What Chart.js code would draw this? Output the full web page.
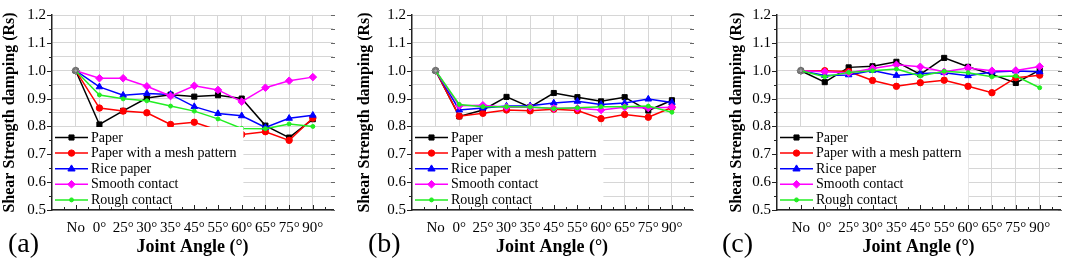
<!DOCTYPE html>
<html>
<head>
<meta charset="utf-8">
<script src="https://cdn.jsdelivr.net/npm/chart.js@4.4.1/dist/chart.umd.min.js"></script>
<style>
  html, body { margin: 0; padding: 0; background: #ffffff; }
  #wrap { position: relative; width: 1065px; height: 265px; overflow: hidden; background: #fff; }
  canvas { position: absolute; top: 0; }
</style>
</head>
<body>
<div id="wrap">
  <canvas id="cA" width="355" height="265" style="left:0px"></canvas>
  <canvas id="cB" width="355" height="265" style="left:355px"></canvas>
  <canvas id="cC" width="355" height="265" style="left:710px"></canvas>
</div>
<script>
// ---------- data ----------
const categories = ['No', '0°', '25°', '30°', '35°', '45°', '55°', '60°', '65°', '75°', '90°'];
const seriesNames = ['Paper', 'Paper with a mesh pattern', 'Rice paper', 'Smooth contact', 'Rough contact'];
const yTickLabels = ['0.5', '0.6', '0.7', '0.8', '0.9', '1.0', '1.1', '1.2'];
const xTitle = 'Joint Angle (°)';
const yTitle = 'Shear Strength damping (Rs)';
const panelLabels = ['(a)', '(b)', '(c)'];

// panel (a)
const paperA  = [1.000, 0.807, 0.856, 0.902, 0.914, 0.907, 0.912, 0.900, 0.803, 0.760, 0.826];
const meshA   = [1.000, 0.866, 0.855, 0.849, 0.807, 0.815, 0.786, 0.771, 0.781, 0.750, 0.830];
const riceA   = [1.000, 0.942, 0.912, 0.918, 0.915, 0.871, 0.846, 0.838, 0.796, 0.829, 0.840];
const smoothA = [1.000, 0.973, 0.973, 0.944, 0.909, 0.946, 0.931, 0.889, 0.939, 0.964, 0.977];
const roughA  = [1.000, 0.913, 0.899, 0.892, 0.873, 0.855, 0.827, 0.793, 0.792, 0.809, 0.800];

// panel (b)
const paperB  = [1.000, 0.836, 0.859, 0.906, 0.869, 0.920, 0.905, 0.890, 0.905, 0.857, 0.894];
const meshB   = [1.000, 0.837, 0.847, 0.859, 0.856, 0.862, 0.857, 0.828, 0.843, 0.833, 0.868];
const riceB   = [1.000, 0.859, 0.866, 0.873, 0.874, 0.884, 0.890, 0.879, 0.884, 0.898, 0.886];
const smoothB = [1.000, 0.874, 0.876, 0.869, 0.869, 0.865, 0.865, 0.859, 0.869, 0.866, 0.869];
const roughB  = [1.000, 0.879, 0.871, 0.871, 0.870, 0.864, 0.867, 0.871, 0.871, 0.873, 0.851];

// panel (c)
const paperC  = [1.000, 0.959, 1.012, 1.016, 1.032, 0.987, 1.046, 1.014, 0.987, 0.956, 1.002];
const meshC   = [1.000, 1.000, 0.997, 0.965, 0.944, 0.957, 0.966, 0.944, 0.921, 0.975, 0.984];
const riceC   = [1.000, 0.983, 0.985, 1.001, 0.983, 0.990, 0.993, 0.982, 0.995, 0.999, 0.996];
const smoothC = [1.000, 0.996, 0.992, 1.008, 1.021, 1.014, 0.996, 1.010, 1.000, 1.001, 1.015];
const roughC  = [1.000, 0.978, 0.994, 1.000, 1.006, 0.981, 0.998, 0.993, 0.978, 0.981, 0.939];

// ---------- styles ----------
const seriesStyle = [
  { color: '#000000', shape: 'rect',     radius: 3.6 },
  { color: '#ff0000', shape: 'circle',   radius: 3.2 },
  { color: '#0000ff', shape: 'triangle', radius: 3.8 },
  { color: '#ff00ff', shape: 'rectRot',  radius: 3.8 },
  { color: '#22ee22', shape: 'circle',   radius: 2.0 }
];
const FONT = "'Liberation Serif', 'Times New Roman', serif";

function drawMarker(ctx, shape, r, x, y, color) {
  ctx.save();
  ctx.fillStyle = color; ctx.strokeStyle = color; ctx.lineWidth = 1;
  ctx.beginPath();
  if (shape === 'rect') {
    const s = r * Math.SQRT1_2;
    ctx.rect(x - s, y - s, 2 * s, 2 * s);
  } else if (shape === 'circle') {
    ctx.arc(x, y, r, 0, Math.PI * 2);
  } else if (shape === 'triangle') {
    ctx.moveTo(x, y - r);
    ctx.lineTo(x + r * 0.95, y + r * 0.6);
    ctx.lineTo(x - r * 0.95, y + r * 0.6);
    ctx.closePath();
  } else if (shape === 'rectRot') {
    ctx.moveTo(x, y - r); ctx.lineTo(x + r, y); ctx.lineTo(x, y + r); ctx.lineTo(x - r, y); ctx.closePath();
  }
  ctx.fill(); ctx.stroke();
  ctx.restore();
}

const decorPlugin = {
  id: 'decor',
  afterDatasetsDraw(chart, args, o) {
    const ctx = chart.ctx;
    const ca = chart.chartArea;
    const xs = chart.scales.x, ys = chart.scales.y;
    ctx.save();
    // legend box (opaque, covers plot)
    ctx.font = '14px ' + FONT;
    let maxW = 0;
    chart.data.datasets.forEach(ds => { maxW = Math.max(maxW, ctx.measureText(ds.label).width); });
    ctx.fillStyle = '#ffffff';
    ctx.fillRect(ca.left + 1, o.legendTop, 39 + maxW + 6, ca.bottom - o.legendTop - 1);
    chart.data.datasets.forEach((ds, i) => {
      const st = seriesStyle[i];
      const yy = o.legendFirst + i * o.legendStep;
      ctx.strokeStyle = st.color; ctx.lineWidth = 1.5;
      ctx.beginPath(); ctx.moveTo(ca.left + 3, yy); ctx.lineTo(ca.left + 36, yy); ctx.stroke();
      drawMarker(ctx, st.shape, st.radius, ca.left + 19.5, yy, st.color);
      ctx.fillStyle = '#000'; ctx.textAlign = 'left'; ctx.textBaseline = 'middle';
      ctx.fillText(ds.label, ca.left + 39, yy + 0.5);
    });
    // axis ticks
    ctx.strokeStyle = '#222'; ctx.lineWidth = 1;
    for (let k = 0; k <= 14; k++) {
      const v = 0.5 + k * 0.05;
      const py = Math.round(ys.getPixelForValue(v)) + 0.5;
      const len = (k % 2 === 0) ? 5 : 3;
      ctx.beginPath(); ctx.moveTo(ca.left - len, py); ctx.lineTo(ca.left, py); ctx.stroke();
      ctx.strokeStyle = '#666';
      ctx.beginPath(); ctx.moveTo(ca.right - 2, py); ctx.lineTo(ca.right + 2, py); ctx.stroke();
      ctx.strokeStyle = '#222';
    }
    for (let k = -1; k <= 21; k++) {
      const v = k * 0.5;
      const px = Math.round(xs.getPixelForValue(v)) + 0.5;
      if (px < ca.left || px > ca.right) continue;
      const len = (k % 2 === 0) ? 5 : 3;
      ctx.beginPath(); ctx.moveTo(px, ca.bottom - len); ctx.lineTo(px, ca.bottom); ctx.stroke();
    }
    ctx.restore();
  },
  afterDraw(chart, args, o) {
    const ctx = chart.ctx;
    const ca = chart.chartArea;
    ctx.save();
    ctx.fillStyle = '#000';
    // x title
    ctx.font = 'bold 18px ' + FONT;
    ctx.textAlign = 'center'; ctx.textBaseline = 'alphabetic';
    ctx.fillText(xTitle, (ca.left + ca.right) / 2, 252);
    // y title
    ctx.save();
    ctx.translate(o.yTitleX, (ca.top + ca.bottom) / 2);
    ctx.rotate(-Math.PI / 2);
    ctx.font = 'bold 16px ' + FONT;
    ctx.textAlign = 'center'; ctx.textBaseline = 'middle';
    ctx.fillText(yTitle, 0, 0);
    ctx.restore();
    // panel label
    ctx.font = '28px ' + FONT;
    ctx.textAlign = 'left'; ctx.textBaseline = 'alphabetic';
    ctx.fillText(o.label, o.labelX, 252);
    ctx.restore();
  }
};

function makeDatasets(arrs) {
  return arrs.map((arr, i) => {
    const st = seriesStyle[i];
    const bg = arr.map((v, j) => j === 0 ? '#a0a0a0' : st.color);
    const bd = arr.map((v, j) => j === 0 ? '#6a6a6a' : st.color);
    return {
      label: seriesNames[i],
      data: arr.map((v, j) => ({ x: j, y: v })),
      borderColor: st.color,
      backgroundColor: st.color,
      borderWidth: 1.5,
      pointStyle: st.shape,
      pointRadius: st.radius,
      pointBackgroundColor: bg,
      pointBorderColor: bd,
      pointBorderWidth: 1,
      tension: 0,
      order: arrs.length - i
    };
  });
}

function makeChart(id, arrs, cfg) {
  const W = 355;
  new Chart(document.getElementById(id), {
    type: 'line',
    data: { datasets: makeDatasets(arrs) },
    plugins: [decorPlugin],
    options: {
      responsive: false,
      animation: false,
      events: [],
      layout: { padding: { left: 0, right: W - cfg.right, top: 8, bottom: 0 } },
      plugins: {
        legend: { display: false },
        tooltip: { enabled: false },
        decor: {
          label: cfg.label, labelX: cfg.labelX, yTitleX: cfg.yTitleX,
          legendTop: 127, legendFirst: 137.5, legendStep: 15.6
        }
      },
      scales: {
        x: {
          type: 'linear', min: -1, max: 10.85,
          afterBuildTicks: s => { s.ticks = categories.map((c, i) => ({ value: i })); },
          afterFit: s => { s.height = 55; },
          ticks: {
            callback: v => categories[v] !== undefined ? categories[v] : '',
            autoSkip: false, maxRotation: 0, minRotation: 0,
            font: { family: FONT, size: 15 }, color: '#000', padding: 9
          },
          grid: { color: '#d6d6d6', lineWidth: 1, drawTicks: false },
          border: { color: '#222', width: 1.5 }
        },
        y: {
          min: 0.5, max: 1.2,
          afterBuildTicks: s => {
            const t = [];
            for (let k = 0; k <= 14; k++) t.push({ value: +(0.5 + k * 0.05).toFixed(2) });
            s.ticks = t;
          },
          afterFit: s => { s.width = cfg.left; },
          ticks: {
            callback: (v, idx) => (idx % 2 === 0) ? yTickLabels[idx / 2] : '',
            autoSkip: false,
            font: { family: FONT, size: 15 }, color: '#000', padding: 6
          },
          grid: { color: '#d6d6d6', lineWidth: 1, drawTicks: false },
          border: { color: '#222', width: 1.5 }
        }
      }
    }
  });
}

makeChart('cA', [paperA, meshA, riceA, smoothA, roughA], { left: 52, right: 333, label: panelLabels[0], labelX: 8,  yTitleX: 10 });
makeChart('cB', [paperB, meshB, riceB, smoothB, roughB], { left: 57, right: 337, label: panelLabels[1], labelX: 13, yTitleX: 10 });
makeChart('cC', [paperC, meshC, riceC, smoothC, roughC], { left: 67, right: 350, label: panelLabels[2], labelX: 12, yTitleX: 27 });
</script>
</body>
</html>
